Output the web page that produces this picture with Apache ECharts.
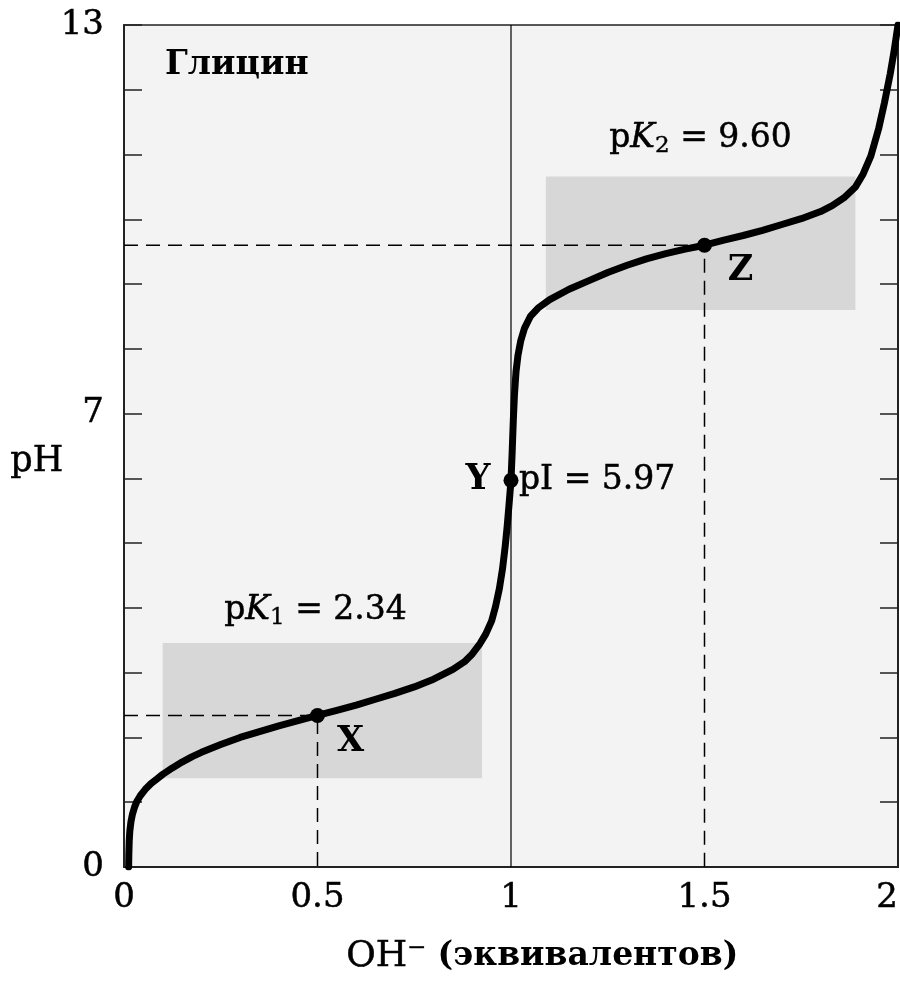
<!DOCTYPE html>
<html>
<head>
<meta charset="utf-8">
<script src="https://cdn.jsdelivr.net/npm/echarts@6/dist/echarts.min.js"></script>
<style>
  html, body { margin: 0; padding: 0; background: #fff; }
  #chart { width: 900px; height: 982px; }
</style>
</head>
<body>
<div id="chart"></div>
<script>
// titration curve of glycine
var curveX  = [0.012, 0.0125, 0.0135, 0.015, 0.018, 0.022, 0.027, 0.033, 0.042, 0.055, 0.07, 0.085, 0.1, 0.125, 0.15, 0.175, 0.2, 0.25, 0.3, 0.35, 0.4, 0.45, 0.5, 0.55, 0.6, 0.65, 0.7, 0.75, 0.8, 0.85, 0.88, 0.9, 0.92, 0.935, 0.95, 0.96, 0.97, 0.978, 0.985, 0.99, 0.995, 1.0, 1.003, 1.006, 1.009, 1.013, 1.018, 1.025, 1.035, 1.05, 1.07, 1.1, 1.15, 1.2, 1.25, 1.3, 1.35, 1.4, 1.45, 1.5, 1.55, 1.6, 1.65, 1.7, 1.75, 1.8, 1.83, 1.86, 1.89, 1.91, 1.93, 1.95, 1.965, 1.98, 1.99, 2.0];
var curvePH = [0, 0.2, 0.4, 0.55, 0.7, 0.82, 0.92, 1.01, 1.1, 1.2, 1.29, 1.36, 1.43, 1.53, 1.62, 1.7, 1.77, 1.89, 2.0, 2.09, 2.18, 2.26, 2.34, 2.42, 2.5, 2.59, 2.68, 2.78, 2.9, 3.05, 3.17, 3.29, 3.45, 3.6, 3.8, 4.02, 4.3, 4.6, 4.95, 5.25, 5.6, 5.97, 6.4, 6.9, 7.3, 7.65, 7.9, 8.12, 8.32, 8.5, 8.63, 8.76, 8.92, 9.05, 9.18, 9.29, 9.39, 9.47, 9.54, 9.6, 9.68, 9.75, 9.83, 9.92, 10.01, 10.12, 10.21, 10.33, 10.5, 10.7, 10.98, 11.4, 11.8, 12.25, 12.6, 13];

// marked points X, Y, Z
var pointNames = ['X', 'Y', 'Z'];
var pointX  = [0.5, 1, 1.5];
var pointPH = [2.34, 5.97, 9.60];

// buffer regions (shaded boxes)
var bufferX  = [[0.1, 0.925], [1.09, 1.89]];
var bufferPH = [[1.37, 3.46], [8.6, 10.66]];

var xTicks = [0, 0.5, 1, 1.5, 2];
var yLabels = [0, 7, 13];

var FONT = 'DejaVu Serif';
var INK = '#000';

var chart = echarts.init(document.getElementById('chart'));

var curveData = curveX.map(function (x, i) { return [x, curvePH[i]]; });
var dots = pointX.map(function (x, i) { return [x, pointPH[i]]; });

function dashed(i) {
  return [[0, pointPH[i]], [pointX[i], pointPH[i]], [pointX[i], 0]];
}

var areas = bufferX.map(function (bx, i) {
  return [{ coord: [bx[0], bufferPH[i][0]] }, { coord: [bx[1], bufferPH[i][1]] }];
});

var labelOffsets = [[33, 26], [-33, 0], [36, 26]];

chart.setOption({
  animation: false,
  title: {
    text: 'Глицин',
    left: 160,
    top: 44,
    textStyle: { fontFamily: FONT, fontSize: 33, fontWeight: 'bold', color: INK }
  },
  grid: {
    left: 124, right: 2, top: 25, bottom: 115,
    containLabel: false,
    outerBoundsMode: 'none',
    show: true,
    backgroundColor: '#f3f3f3',
    borderColor: '#222',
    borderWidth: 1.5
  },
  xAxis: {
    type: 'value',
    min: 0, max: 2, interval: 0.5,
    axisLine: { show: true, onZero: false, lineStyle: { color: '#222', width: 2 } },
    axisTick: { show: false },
    splitLine: { show: false },
    axisLabel: {
      margin: 14,
      fontFamily: FONT, fontSize: 34, color: INK,
      textBorderColor: INK, textBorderWidth: 0.5,
      alignMaxLabel: 'right',
      formatter: function (v) { return xTicks.indexOf(v) >= 0 ? String(v) : ''; }
    }
  },
  yAxis: [{
    type: 'value',
    min: 0, max: 13, interval: 1,
    axisLine: { show: true, onZero: false, lineStyle: { color: '#222', width: 2 } },
    axisTick: { show: true, inside: true, length: 18, lineStyle: { color: '#222', width: 1.5 } },
    splitLine: { show: false },
    axisLabel: {
      margin: 20,
      fontFamily: FONT, fontSize: 34, color: INK,
      textBorderColor: INK, textBorderWidth: 0.5,
      formatter: function (v) { return yLabels.indexOf(v) >= 0 ? String(v) : ''; }
    }
  }, {
    type: 'value',
    position: 'right',
    min: 0, max: 13, interval: 1,
    axisLine: { show: true, onZero: false, lineStyle: { color: '#222', width: 2 } },
    axisTick: { show: true, inside: true, length: 18, lineStyle: { color: '#222', width: 1.5 } },
    splitLine: { show: false },
    axisLabel: { show: false }
  }],
  graphic: [{
    type: 'text',
    left: 10,
    top: 444,
    style: {
      text: 'pH',
      font: '35px "DejaVu Serif"',
      fill: INK, stroke: INK, lineWidth: 0.5
    }
  }, {
    type: 'text',
    left: 346,
    top: 938,
    style: {
      text: '{r|OH⁻ }{b|(эквивалентов)}',
      rich: {
        r: { fontFamily: FONT, fontSize: 36, fill: INK, stroke: INK, lineWidth: 0.5 },
        b: { fontFamily: FONT, fontSize: 33, fontWeight: 'bold', fill: INK }
      }
    }
  }],
  series: [
    {
      // shaded buffer boxes
      type: 'line',
      data: [],
      silent: true,
      z: 1,
      markArea: {
        silent: true,
        itemStyle: { color: '#d7d7d7' },
        data: areas
      }
    },
    {
      type: 'line',
      data: [[pointX[1], 0], [pointX[1], 13]],
      symbol: 'none',
      silent: true,
      z: 2,
      lineStyle: { color: INK, width: 1.2 }
    },
    {
      type: 'line',
      data: dashed(0),
      symbol: 'none',
      silent: true,
      z: 2,
      lineStyle: { color: INK, width: 1.5, type: [14, 8] }
    },
    {
      type: 'line',
      data: dashed(2),
      symbol: 'none',
      silent: true,
      z: 2,
      lineStyle: { color: INK, width: 1.5, type: [14, 8] }
    },
    {
      type: 'line',
      data: curveData,
      symbol: 'none',
      smooth: false,
      z: 5,
      lineStyle: { color: '#000', width: 7, join: 'round', cap: 'round' }
    },
    {
      type: 'scatter',
      data: dots,
      symbolSize: 15,
      z: 6,
      itemStyle: { color: '#000', opacity: 1 },
      label: {
        show: true,
        position: 'inside',
        fontFamily: FONT, fontSize: 35, fontWeight: 'bold', color: INK,
        textBorderWidth: 0,
        formatter: function (p) { return pointNames[p.dataIndex]; }
      },
      labelLayout: function (p) {
        var o = labelOffsets[p.dataIndex];
        return { dx: o[0], dy: o[1] };
      }
    },
    {
      // pK / pI annotations
      type: 'scatter',
      data: [
        { value: dots[0], label: { position: 'inside', offset: [-2, -105], formatter: 'p{i|K}{s|1} = 2.34' } },
        { value: dots[1], label: { position: 'right', distance: 8, formatter: 'pI = 5.97' } },
        { value: dots[2], label: { position: 'inside', offset: [-4, -107], formatter: 'p{i|K}{s|2} = 9.60' } }
      ],
      symbolSize: 0,
      silent: true,
      z: 7,
      itemStyle: { opacity: 1 },
      label: {
        show: true,
        fontFamily: FONT, fontSize: 33, color: INK,
        textBorderColor: INK, textBorderWidth: 0.5,
        rich: {
          i: { fontFamily: FONT, fontSize: 33, fontStyle: 'italic', color: INK, textBorderColor: INK, textBorderWidth: 0.5 },
          s: { fontFamily: FONT, fontSize: 23, color: INK, padding: [16, 0, 0, 0], textBorderColor: INK, textBorderWidth: 0.4 }
        }
      }
    }
  ]
});
</script>
</body>
</html>
